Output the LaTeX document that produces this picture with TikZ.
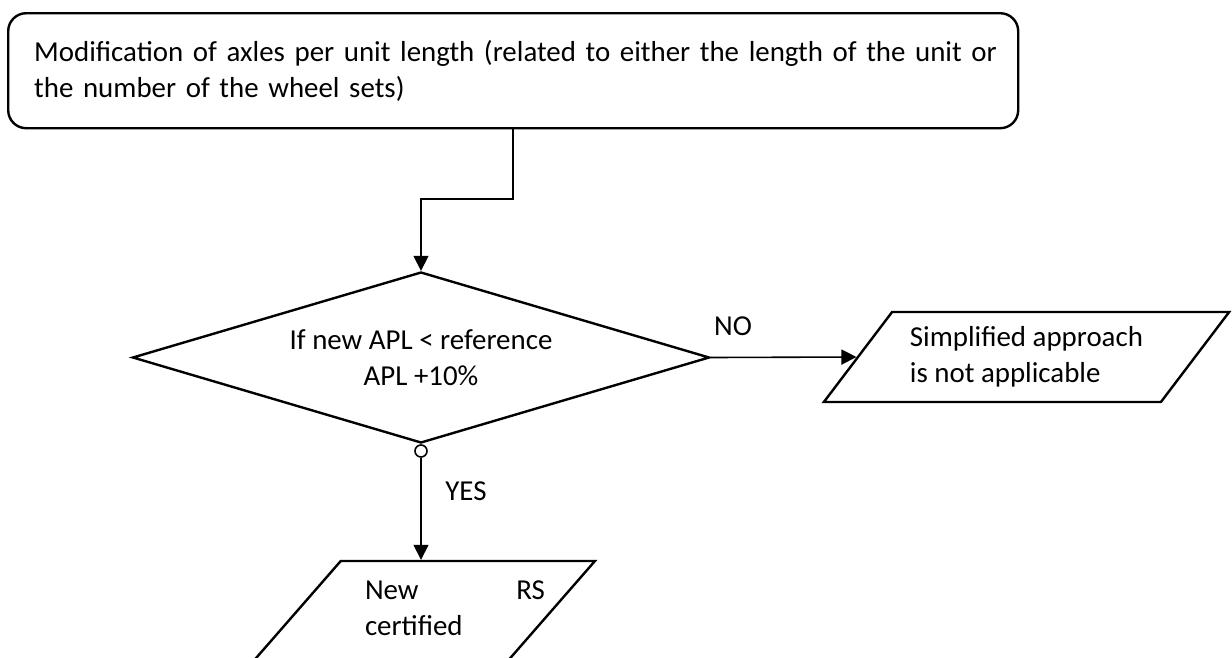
\documentclass[tikz,border=0pt]{standalone}
\usepackage{fontspec}
\setmainfont{Carlito}
\usetikzlibrary{shapes.geometric,arrows.meta,positioning}

\tikzset{
  txt/.style={font=\fontsize{28.9}{36}\selectfont},
  startbox/.style={txt,draw,line width=2.4pt,rounded corners=18pt,align=left,
    text width=970pt,inner xsep=20pt,minimum height=115pt},
  decision/.style={txt,draw,diamond,aspect=3.38,line width=2.4pt,align=center,
    minimum width=577pt,minimum height=171pt,inner sep=0pt},
  iobox/.style={txt,draw,trapezium,trapezium stretches=true,line width=2.4pt,inner sep=3pt},
  link/.style={line width=1.6pt,-{Triangle[length=15pt,width=15pt]}},
  dot/.style={draw,circle,line width=1.6pt,fill=white,minimum size=12pt,inner sep=0pt},
}

\begin{document}
\begin{tikzpicture}[x=1pt,y=1pt]
  \useasboundingbox (0,0) rectangle (1232,-657);
  \clip (0,0) rectangle (1232,-657);
  \node[startbox,anchor=north west] (start) at (7,-12)
    {\hspace*{6pt}Modification of axles per unit length (related to either the length of the unit or\\\hspace*{6pt}the number of the wheel sets)};
  \node[decision] (cond) at (421,-357.5) {If new APL < reference\\APL +10\%};
  \node[dot,below=0pt of cond.south] (yesdot) {};
  \node[iobox,trapezium left angle=47.7,trapezium right angle=132.3,
    minimum width=407pt,minimum height=90pt,align=left] (noapp) at (1026.5,-357)
    {Simplified approach\\is not applicable};
  \node[iobox,trapezium left angle=55,trapezium right angle=125,
    minimum width=359pt,minimum height=120pt] (newrs) at (415.5,-621) {};
  \node[txt,text width=180pt,align=left] (newrstxt) at (455,-608) {New\hfill RS\\certified};
  \node[txt] (nolbl) at (733,-326) {NO};
  \node[txt] (yeslbl) at (466,-491) {YES};
  \coordinate (knee) at (513,-199);
  % connectors
  \draw[link] (start.south -| knee) -- (knee) -| (cond.north);
  \draw[link] (cond.east) -- (noapp.left side);
  \draw[link] (yesdot) -- (yesdot |- newrs.north);
\end{tikzpicture}
\end{document}
